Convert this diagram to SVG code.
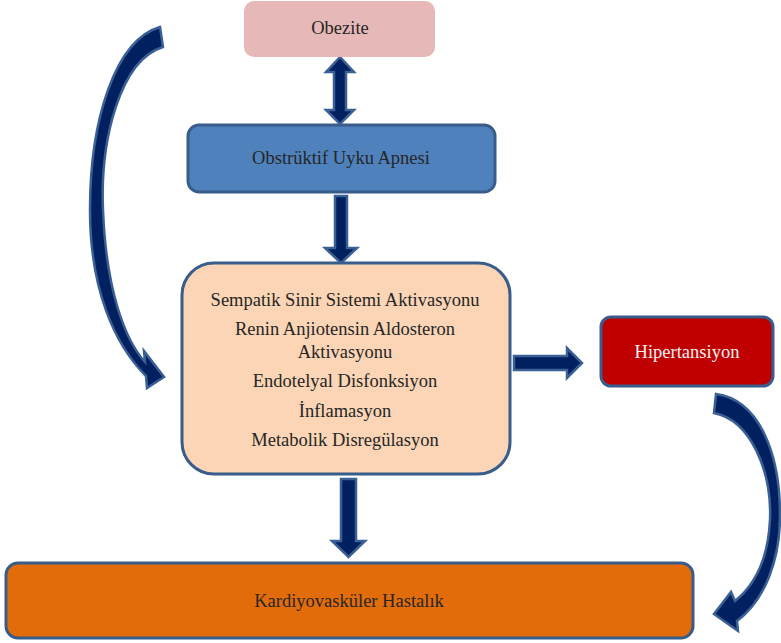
<svg xmlns="http://www.w3.org/2000/svg" width="781" height="643" viewBox="0 0 781 643">
<style>
.box{stroke:#385D8A;stroke-width:3}
text{font-family:'Liberation Serif','Times New Roman',serif;font-size:18.5px;fill:#262626;text-anchor:middle}
.arr{fill:#002060;stroke:#3B6095;stroke-width:2.5;stroke-linejoin:miter}
</style>
<rect width="781" height="643" fill="#ffffff"/>
<g id="connectors">
<path class="arr" d="M340,57 L354,72 L346,72 L346,110 L354,110 L340,124 L326,110 L334,110 L334,72 L326,72 Z"/>
<path class="arr" d="M335,196 L347,196 L347,248 L357,248 L341,263 L325,248 L335,248 Z"/>
<path class="arr" d="M341,479 L356,479 L356,541 L365,541 L348.5,557 L332,541 L341,541 Z"/>
<path class="arr" d="M514,356 L567,356 L567,348 L582,363 L567,378 L567,370 L514,370 Z"/>
<path class="arr" d="M160,27 L163,47 C120,60 100,140 103,210 C106,290 125,340 145,362 L144,351 L164,377 L147,388 L146,376 C115,345 90,290 90,210 C90,120 115,40 160,27 Z"/>
<path class="arr" d="M716,394 L714,413 C750,420 772,470 770,520 C768,560 755,585 735,601 L731,592 L714,614 L738,631 L737,621 C765,600 780,560 780,515 C780,455 760,400 716,394 Z"/>
</g>
<g id="obezite">
<rect x="244" y="1" width="191" height="56" rx="10" fill="#E6B9B8"/>
<text x="340" y="34">Obezite</text>
</g>
<g id="osa">
<rect class="box" x="188" y="125" width="307" height="67" rx="11" fill="#4F81BD"/>
<text x="341" y="164">Obstrüktif Uyku Apnesi</text>
</g>
<g id="mechanisms">
<rect class="box" x="182" y="263" width="328" height="211" rx="32" fill="#FBD5B5"/>
<text x="345" y="306">Sempatik Sinir Sistemi Aktivasyonu</text>
<text x="345" y="335">Renin Anjiotensin Aldosteron</text>
<text x="345" y="358">Aktivasyonu</text>
<text x="345" y="387">Endotelyal Disfonksiyon</text>
<text x="345" y="417">İnflamasyon</text>
<text x="345" y="446">Metabolik Disregülasyon</text>
</g>
<g id="hipertansiyon">
<rect class="box" x="601" y="317" width="172" height="69" rx="10" fill="#C00000"/>
<text x="687" y="358" style="fill:#F2F2F2">Hipertansiyon</text>
</g>
<g id="kvh">
<rect class="box" x="6" y="563" width="687" height="75" rx="12" fill="#E36C0A"/>
<text x="349" y="607">Kardiyovasküler Hastalık</text>
</g>
</svg>
